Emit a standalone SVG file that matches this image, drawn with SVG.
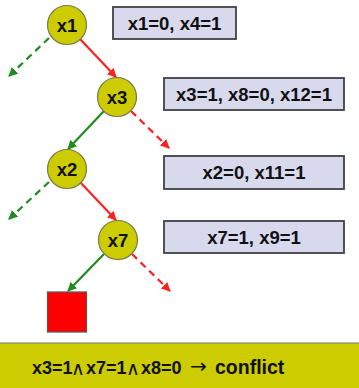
<svg xmlns="http://www.w3.org/2000/svg" width="359" height="388" viewBox="0 0 359 388">
<defs>
<marker id="ag" viewBox="0 0 10 10" refX="9" refY="5" markerWidth="4.2" markerHeight="4.2" orient="auto" markerUnits="strokeWidth"><path d="M0,0 L10,5 L0,10 z" fill="#1f8c1f"/></marker>
<marker id="ar" viewBox="0 0 10 10" refX="9" refY="5" markerWidth="4.2" markerHeight="4.2" orient="auto" markerUnits="strokeWidth"><path d="M0,0 L10,5 L0,10 z" fill="#ff2020"/></marker>
</defs>
<style>
.n circle{fill:#cccc00;stroke:#7a7a50;stroke-width:1.2}
.t{font-family:"Liberation Sans",Arial,sans-serif;font-size:18.5px;font-weight:bold;fill:#111;text-anchor:middle}
.b rect{fill:#d9d9ee;stroke:#404048;stroke-width:1.8}
.g{stroke:#1f8c1f;stroke-width:2.2;fill:none;marker-end:url(#ag)}
.r{stroke:#ff2020;stroke-width:2.2;fill:none;marker-end:url(#ar)}
.d{stroke-dasharray:7,5}
.f{font-family:"Liberation Sans",Arial,sans-serif;font-size:18px;font-weight:bold;fill:#111}
.s{font-family:"DejaVu Sans",sans-serif;font-size:19px;font-weight:normal}
</style>
<rect width="359" height="388" fill="#fff"/>
<g id="connectors">
<line class="g d" x1="49" y1="38" x2="9" y2="76"/>
<line class="r" x1="80" y1="39" x2="116" y2="77"/>
<line class="g" x1="104" y1="111" x2="68" y2="149"/>
<line class="r d" x1="131" y1="111" x2="169" y2="148"/>
<line class="g d" x1="49" y1="182" x2="9" y2="219"/>
<line class="r" x1="80" y1="182" x2="116" y2="220"/>
<line class="g" x1="104" y1="254" x2="68" y2="291"/>
<line class="r d" x1="132" y1="254" x2="170" y2="291"/>
</g>
<g id="x1" class="n"><circle cx="67" cy="25" r="19.5"/><text class="t" x="67" y="32">x1</text></g>
<g id="x3" class="n"><circle cx="117" cy="97" r="19.5"/><text class="t" x="117" y="104">x3</text></g>
<g id="x2" class="n"><circle cx="67" cy="169" r="19.5"/><text class="t" x="67" y="176">x2</text></g>
<g id="x7" class="n"><circle cx="118" cy="240" r="19.5"/><text class="t" x="118" y="247">x7</text></g>
<g id="conflict"><rect x="47.5" y="292" width="39" height="40" fill="#ff0000" stroke="#555" stroke-width="1.2"/></g>
<g id="box1" class="b"><rect x="113" y="7" width="123" height="32"/><text class="t" x="174.5" y="30">x1=0, x4=1</text></g>
<g id="box2" class="b"><rect x="164" y="78" width="180" height="32"/><text class="t" x="254" y="101">x3=1, x8=0, x12=1</text></g>
<g id="box3" class="b"><rect x="164" y="156" width="180" height="33"/><text class="t" x="254" y="179">x2=0, x11=1</text></g>
<g id="box4" class="b"><rect x="164" y="221" width="180" height="32"/><text class="t" x="254" y="244">x7=1, x9=1</text></g>
<g id="footer">
<rect x="0" y="343" width="359" height="45" fill="#cccc00"/>
<line x1="0" y1="343" x2="359" y2="343" stroke="#777" stroke-width="1.2"/>
<text class="f" y="374"><tspan x="32">x3=1</tspan><tspan class="s" x="71" y="375">∧</tspan><tspan x="86" y="374">x7=1</tspan><tspan class="s" x="126" y="375">∧</tspan><tspan x="141" y="374">x8=0</tspan> <tspan x="190" font-family="DejaVu Sans,sans-serif" font-weight="normal" font-size="20" y="373">→</tspan> <tspan x="215" y="374" font-size="19.5">conflict</tspan></text>
</g>
</svg>
